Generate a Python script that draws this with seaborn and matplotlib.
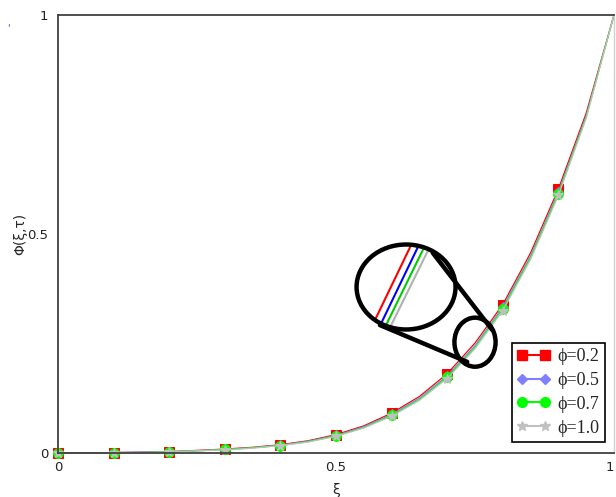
import numpy as np
import pandas as pd
import matplotlib
matplotlib.use("Agg")
import matplotlib.pyplot as plt
import seaborn as sns
from matplotlib.patches import Ellipse
from matplotlib.lines import Line2D

# ---------------- data ----------------
xi = [0.0, 0.05, 0.1, 0.15, 0.2, 0.25, 0.3, 0.35, 0.4, 0.45, 0.5,
      0.55, 0.6, 0.65, 0.7, 0.75, 0.8, 0.85, 0.9, 0.95, 1.0]
phi_02 = [0, 0, 0.001, 0.002, 0.003, 0.006, 0.009, 0.013, 0.019, 0.028, 0.042,
          0.062, 0.091, 0.129, 0.181, 0.251, 0.339, 0.457, 0.603, 0.776, 1.0]
phi_05 = [0, 0, 0.001, 0.002, 0.003, 0.005, 0.008, 0.012, 0.018, 0.027, 0.040,
          0.060, 0.088, 0.125, 0.176, 0.245, 0.333, 0.450, 0.596, 0.770, 1.0]
phi_07 = [0, 0, 0.001, 0.001, 0.003, 0.005, 0.008, 0.012, 0.017, 0.026, 0.039,
          0.058, 0.086, 0.122, 0.173, 0.241, 0.329, 0.446, 0.592, 0.767, 1.0]
phi_10 = [0, 0, 0.001, 0.001, 0.002, 0.005, 0.007, 0.011, 0.017, 0.025, 0.038,
          0.057, 0.084, 0.120, 0.170, 0.238, 0.325, 0.442, 0.588, 0.764, 1.0]
labels = ["ϕ=0.2", "ϕ=0.5", "ϕ=0.7", "ϕ=1.0"]
x_ticks = [0, 0.5, 1]
x_ticklabels = ["0", "0.5", "1"]
y_ticks = [0, 0.5, 1]
y_ticklabels = ["0", "0.5", "1"]

series = [phi_02, phi_05, phi_07, phi_10]
df = pd.concat([pd.DataFrame({"xi": xi, "Phi": s, "phi": lab})
                for s, lab in zip(series, labels)], ignore_index=True)

# ---------------- style ----------------
colors = ["#ff0000", "#8080ff", "#00ff00", "#c0c0c0"]
markers = ["s", "D", "o", "*"]
msizes = [7, 5.5, 7, 7]

sns.set_style("white")
plt.rcParams["font.family"] = ["DejaVu Sans"]

fig = plt.figure(figsize=(6.16, 4.97), dpi=100)
ax = fig.add_axes([58 / 616, 44 / 497, 556 / 616, 438 / 497])

sns.lineplot(data=df, x="xi", y="Phi", hue="phi", palette=colors,
             ax=ax, legend=False, linewidth=0.9, sort=False,
             estimator=None)
mark_idx = list(range(0, 19, 2))
for line, m, ms, c in zip(ax.get_lines(), markers, msizes, colors):
    line.set_marker(m)
    line.set_markersize(ms)
    line.set_markerfacecolor(c)
    line.set_markeredgecolor(c)
    line.set_markevery(mark_idx)
    line.set_clip_on(False)

ax.set_xlim(0, 1)
ax.set_ylim(0, 1)
ax.set_xticks(x_ticks)
ax.set_xticklabels(x_ticklabels)
ax.set_yticks(y_ticks)
ax.set_yticklabels(y_ticklabels)
ax.tick_params(axis="x", direction="in", length=5, width=1, colors="#333333",
               labelsize=9.5, labelcolor="#222222", pad=6)
ax.tick_params(axis="y", direction="out", length=5, width=1, colors="#333333",
               labelsize=9.5, labelcolor="#222222", pad=2)
ax.xaxis.get_majorticklabels()[-1].set_ha("right")

for side in ["left", "bottom", "top"]:
    ax.spines[side].set_color("#404040")
    ax.spines[side].set_linewidth(1.3)
ax.spines["right"].set_color("#d0d0d0")
ax.spines["right"].set_linewidth(1)

ax.set_xlabel("ξ", fontsize=10, labelpad=6)
ax.set_ylabel("Φ(ξ,τ)", fontsize=10, labelpad=0)

# ---------------- zoom annotation (decoration) ----------------
big = Ellipse((0.626, 0.379), 0.178, 0.194, fill=False, ec="black", lw=3.2,
              transform=ax.transAxes, zorder=6)
small = Ellipse((0.750, 0.253), 0.074, 0.112, fill=False, ec="black", lw=3.2,
                transform=ax.transAxes, zorder=6)
ax.add_patch(big)
ax.add_patch(small)
ax.plot([0.674, 0.781], [0.457, 0.281], color="black", lw=3.2,
        transform=ax.transAxes, zorder=6, solid_capstyle="round")
ax.plot([0.579, 0.736], [0.292, 0.208], color="black", lw=3.2,
        transform=ax.transAxes, zorder=6, solid_capstyle="round")
clip = Ellipse((0.626, 0.379), 0.178, 0.194, fill=False, ec="none",
               transform=ax.transAxes)
ax.add_patch(clip)
inner_x = [(0.546, 0.656), (0.560, 0.670), (0.568, 0.678), (0.576, 0.684)]
inner_y = [(0.24, 0.53), (0.24, 0.53), (0.235, 0.52), (0.232, 0.51)]
for (x0, x1), (y0, y1), c in zip(inner_x, inner_y,
                                  ["#ff0000", "#0000ff", "#00cc00", "#b0b0b0"]):
    ln, = ax.plot([x0, x1], [y0, y1], color=c, lw=1.5,
                  transform=ax.transAxes, zorder=5)
    ln.set_clip_path(clip)

# ---------------- legend ----------------
handles = [Line2D([0], [0], color=c, marker=m, markersize=ms,
                  markerfacecolor=c, markeredgecolor=c, lw=1.5)
           for c, m, ms in zip(colors, markers, msizes)]
leg = ax.legend(handles, labels, loc="lower right",
                bbox_to_anchor=(0.984, 0.025), borderaxespad=0,
                frameon=True, fancybox=False,
                edgecolor="black", framealpha=1, borderpad=0.3,
                handlelength=1.85, handletextpad=0.4, labelspacing=0.38,
                numpoints=2,
                prop={"family": "Liberation Serif", "size": 13})
leg.get_frame().set_linewidth(1.2)

fig.text(8 / 616, 1 - 28 / 497, "'", color="#7030a0", fontsize=7,
         ha="center", va="center")

fig.savefig("out.png", dpi=100)
